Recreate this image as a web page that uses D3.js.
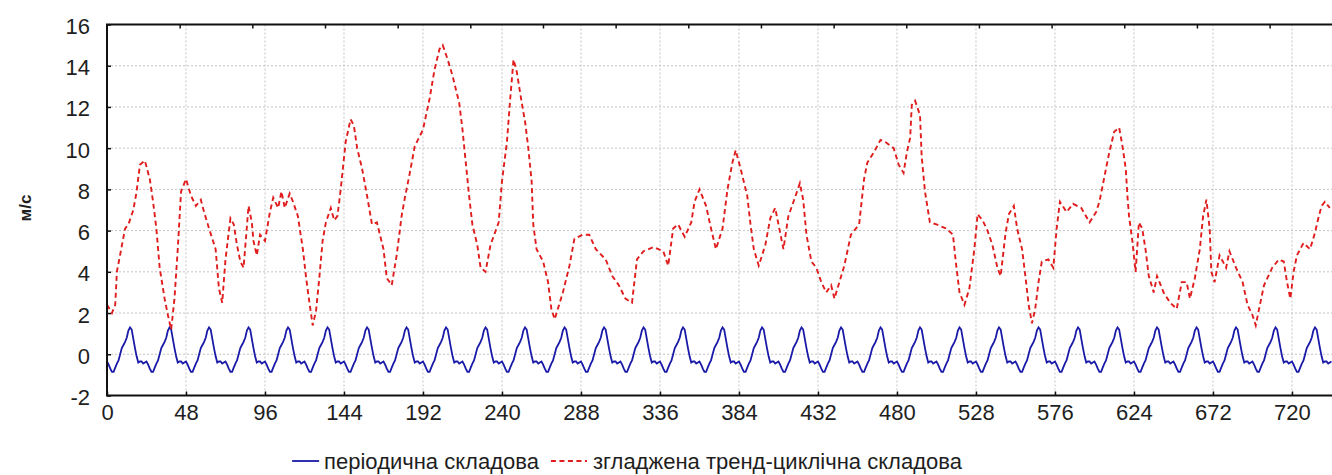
<!DOCTYPE html>
<html>
<head>
<meta charset="utf-8">
<script src="https://cdn.jsdelivr.net/npm/d3@7"></script>
<style>
  html, body { margin: 0; padding: 0; background: #fff; }
  svg { display: block; }
  text { font-family: "Liberation Sans", Arial, sans-serif; fill: #1e1e1e; }
</style>
</head>
<body>
<svg id="chart" width="1332" height="475"></svg>
<script>
'use strict';

// periodic (seasonal) component: one 24-hour profile, the curve repeats it
var hourProfile = [-0.35, -0.5, -0.7, -0.85, -0.85, -0.65, -0.45, -0.3, 0.0, 0.3, 0.45, 0.6,
                   0.8, 1.15, 1.3, 1.2, 0.75, 0.3, -0.1, -0.4, -0.35, -0.35, -0.45, -0.4];
var hoursTotal = 744;

// smoothed trend-cycle component
var trendT = [0, 3, 5, 6, 11, 13, 16, 18, 20, 23, 26, 28, 30, 32, 35, 37, 39, 41, 43, 45, 48, 51, 54, 57, 59,
  62, 66, 68, 70, 72, 75, 77, 79, 81, 83, 86, 88, 89, 91, 93, 96, 99, 101, 104, 106, 108, 111, 113, 116,
  119, 121, 123, 125, 127, 129, 131, 133, 136, 138, 140, 142, 145, 148, 150, 152, 155, 158, 161, 164,
  168, 170, 173, 176, 179, 181, 184, 187, 192, 196, 199, 202, 204, 207, 210, 214, 216, 218, 220, 222,
  225, 227, 230, 233, 238, 240, 243, 245, 247, 249, 252, 254, 256, 258, 259, 261, 265, 268, 270, 272,
  277, 281, 284, 289, 293, 297, 303, 307, 311, 315, 319, 322, 326, 332, 338, 341, 344, 347, 351, 355,
  357, 360, 364, 367, 370, 374, 377, 380, 382, 385, 389, 391, 393, 396, 400, 403, 406, 409, 411, 414,
  418, 421, 423, 425, 428, 431, 434, 437, 440, 442, 445, 448, 452, 457, 460, 462, 466, 470, 473, 478,
  481, 484, 486, 488, 489, 491, 494, 495, 497, 500, 504, 510, 514, 516, 518, 521, 524, 527, 529, 532,
  535, 538, 541, 543, 546, 548, 551, 553, 556, 558, 560, 562, 564, 566, 568, 572, 575, 577, 579, 583,
  587, 592, 597, 601, 603, 605, 607, 609, 612, 615, 617, 619, 620, 621, 623, 625, 627, 629, 631, 633,
  636, 638, 642, 646, 650, 653, 656, 658, 661, 664, 666, 668, 670, 671, 673, 676, 680, 682, 686, 690,
  693, 696, 698, 700, 703, 708, 712, 715, 717, 719, 721, 723, 727, 731, 734, 736, 738, 740, 743];
var trendV = [2.4, 2.0, 2.4, 4.0, 6.1, 6.3, 7.0, 7.9, 9.2, 9.4, 8.5, 7.4, 6.1, 4.2, 2.7, 1.9, 1.2, 2.7, 5.1, 7.9, 8.5, 7.7, 7.2, 7.5, 6.9,
  6.1, 5.1, 3.2, 2.5, 4.6, 6.6, 6.3, 5.3, 4.5, 4.2, 7.2, 6.4, 5.5, 4.8, 5.8, 5.5, 6.9, 7.6, 7.1, 7.9, 7.1, 7.8, 7.4, 6.7,
  5.1, 3.7, 2.5, 1.4, 2.1, 3.7, 5.5, 6.4, 7.1, 6.5, 6.7, 8.0, 10.3, 11.4, 11.1, 10.0, 9.0, 7.7, 6.3, 6.4,
  5.1, 3.7, 3.35, 4.8, 6.7, 7.6, 8.8, 10.1, 10.9, 12.4, 13.8, 14.8, 15.0, 14.3, 13.5, 12.2, 10.9, 9.3, 7.7, 6.3,
  5.3, 4.2, 4.0, 5.3, 6.4, 8.4, 10.3, 12.4, 14.3, 13.7, 12.2, 11.3, 10.0, 8.4, 6.3, 5.1, 4.5, 3.5, 2.2, 1.7,
  3.0, 4.3, 5.6, 5.8, 5.8, 5.1, 4.6, 3.8, 3.35, 2.7, 2.5, 4.6, 5.0, 5.2, 5.0, 4.3, 6.1, 6.3, 5.7, 6.4,
  7.4, 8.0, 7.2, 6.1, 5.1, 6.1, 8.0, 9.3, 9.9, 9.0, 7.7, 6.3, 5.1, 4.3, 5.3, 6.6, 7.1, 5.9, 5.1, 6.7,
  7.6, 8.3, 7.5, 5.8, 4.5, 4.2, 3.5, 3.0, 3.35, 2.7, 3.5, 4.3, 5.8, 6.3, 8.5, 9.3, 9.8, 10.4, 10.3, 10.0,
  9.2, 8.8, 9.8, 10.5, 12.1, 12.3, 11.6, 9.6, 7.9, 6.4, 6.3, 6.1, 5.8, 4.3, 3.0, 2.4, 3.2, 5.1, 6.8, 6.5,
  6.0, 5.3, 4.2, 3.8, 5.9, 6.8, 7.2, 6.1, 5.1, 3.8, 2.4, 1.5, 2.2, 3.5, 4.5, 4.6, 4.2, 6.1, 7.4, 6.9,
  7.3, 7.1, 6.4, 6.9, 7.4, 8.2, 9.0, 9.8, 10.8, 11.0, 10.1, 9.0, 7.7, 6.7, 5.5, 4.0, 6.4, 6.1, 5.1, 3.8,
  3.0, 3.8, 3.0, 2.5, 2.2, 3.5, 3.5, 2.7, 3.7, 5.1, 6.7, 7.5, 6.1, 4.0, 3.5, 4.8, 4.2, 5.0, 4.2, 3.5,
  2.4, 1.9, 1.4, 2.2, 3.35, 4.2, 4.6, 4.5, 3.5, 2.7, 4.0, 4.8, 5.4, 5.1, 5.9, 6.6, 7.2, 7.4, 7.1];

var xTickValues = [0, 48, 96, 144, 192, 240, 288, 336, 384, 432, 480, 528, 576, 624, 672, 720];
var yTickValues = [-2, 0, 2, 4, 6, 8, 10, 12, 14, 16];
var topTickStep = 44.15;
var yTitle = 'м/с';
var legendNames = ['періодична складова', 'згладжена тренд-циклічна складова'];

(function () {
    var svg = d3.select('#chart');
    var plotLeft = 107;
    var plotTop = 24.5;
    var plotBottom = 395.5;
    var blue = '#1a1aa8';
    var red = '#e01c1c';
    var fontFamily = '"Liberation Sans", Arial, sans-serif';

    var x = d3.scaleLinear().domain([0, hoursTotal]).range([plotLeft, plotLeft + hoursTotal * 1.6458]);
    var y = d3.scaleLinear().domain([-2, 16]).range([plotBottom, plotTop]);

    var periodic = d3.range(hoursTotal + 1).map(function (h) {
        return {t: h, v: hourProfile[h % 24]};
    });
    var trend = trendT.map(function (t, i) {
        return {t: t, v: trendV[i]};
    });
    var line = d3.line()
        .x(function (d) { return x(d.t); })
        .y(function (d) { return y(d.v); });

    // grid
    var grid = svg.append('g');
    grid.selectAll('line.gx')
        .data(xTickValues.slice(1))
        .enter()
        .append('line')
        .attr('x1', function (d) { return x(d); })
        .attr('x2', function (d) { return x(d); })
        .attr('y1', plotTop)
        .attr('y2', plotBottom)
        .attr('stroke', '#c4c4c4')
        .attr('stroke-dasharray', '2,2');
    grid.selectAll('line.gy')
        .data(yTickValues.slice(1, -1))
        .enter()
        .append('line')
        .attr('x1', plotLeft)
        .attr('x2', 1332)
        .attr('y1', function (d) { return y(d); })
        .attr('y2', function (d) { return y(d); })
        .attr('stroke', '#c4c4c4')
        .attr('stroke-dasharray', '2,2');

    // series
    svg.append('path')
        .datum(periodic)
        .attr('fill', 'none')
        .attr('stroke', blue)
        .attr('stroke-width', 1.8)
        .attr('d', line);

    svg.append('path')
        .datum(trend)
        .attr('fill', 'none')
        .attr('stroke', red)
        .attr('stroke-width', 1.9)
        .attr('stroke-dasharray', '5,3.5')
        .attr('d', line);

    // axes, ticks point inwards
    var plain = function (d) { return String(d); };

    var gx = svg.append('g')
        .attr('transform', 'translate(0,' + plotBottom + ')')
        .call(d3.axisBottom(x).tickValues(xTickValues).tickFormat(plain)
            .tickSizeInner(-4).tickSizeOuter(0).tickPadding(9));
    gx.select('.domain').remove();

    var gy = svg.append('g')
        .attr('transform', 'translate(' + plotLeft + ',2)')
        .call(d3.axisLeft(y).tickValues(yTickValues).tickFormat(plain)
            .tickSizeInner(-4).tickSizeOuter(0).tickPadding(17));
    gy.select('.domain').remove();
    gy.selectAll('.tick line').attr('transform', 'translate(0,-2)');

    var gt = svg.append('g')
        .attr('transform', 'translate(0,' + plotTop + ')')
        .call(d3.axisTop(x)
            .tickValues(d3.range(1, 17).map(function (k) { return k * topTickStep; }))
            .tickSizeInner(-4).tickSizeOuter(0).tickFormat(''));
    gt.select('.domain').remove();

    svg.selectAll('.tick text')
        .attr('font-size', 22)
        .attr('font-family', fontFamily)
        .attr('fill', '#1e1e1e');
    svg.selectAll('.tick line').attr('stroke', '#111').attr('stroke-width', 1.5);

    // frame, its right side lies outside the picture
    svg.append('path')
        .attr('d', 'M1334,' + plotTop + 'H' + plotLeft + 'V' + plotBottom + 'H1334')
        .attr('fill', 'none')
        .attr('stroke', '#111')
        .attr('stroke-width', 2);

    svg.append('text')
        .attr('transform', 'translate(31,208) rotate(-90)')
        .attr('text-anchor', 'middle')
        .attr('font-size', 17)
        .attr('font-weight', 'bold')
        .text(yTitle);

    // legend, centred under the plot
    var legend = svg.append('g');
    var item0 = legend.append('g');
    item0.append('line').attr('x1', 0).attr('x2', 27).attr('stroke', blue).attr('stroke-width', 1.8);
    var text0 = item0.append('text').attr('x', 32).attr('y', 7.5).attr('font-size', 22).text(legendNames[0]);
    var w0 = 32 + text0.node().getComputedTextLength();

    var item1 = legend.append('g').attr('transform', 'translate(' + (w0 + 12) + ',0)');
    item1.append('line').attr('x1', 0).attr('x2', 36).attr('stroke', red)
        .attr('stroke-width', 1.9).attr('stroke-dasharray', '5,3.5');
    var text1 = item1.append('text').attr('x', 42).attr('y', 7.5).attr('font-size', 22).text(legendNames[1]);
    var total = w0 + 12 + 42 + text1.node().getComputedTextLength();

    legend.attr('transform', 'translate(' + (627 - total / 2) + ',461)');
})();
</script>
</body>
</html>
